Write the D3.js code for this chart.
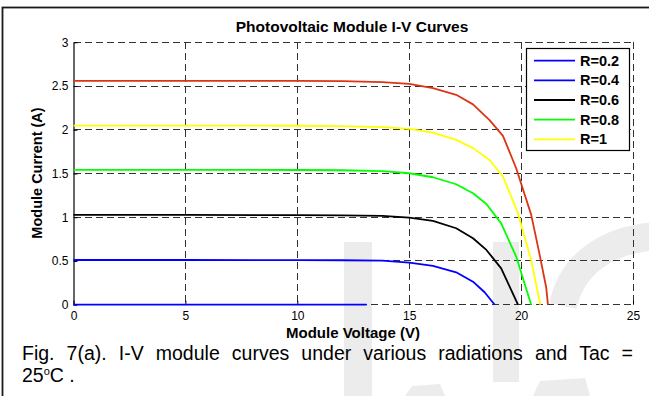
<!DOCTYPE html>
<html>
<head>
<meta charset="utf-8">
<script src="https://cdn.jsdelivr.net/npm/d3@7/dist/d3.min.js"></script>
<style>
  html, body { margin: 0; padding: 0; background: #fff; }
  svg { display: block; }
  text { font-family: "Liberation Sans", Arial, Helvetica, sans-serif; }
</style>
</head>
<body>
<svg id="chart" width="649" height="396"></svg>
<script>
// ---- data -------------------------------------------------------------
const xTicks = [0, 5, 10, 15, 20, 25];
const yTicks = [0, 0.5, 1, 1.5, 2, 2.5, 3];

// module voltage (V) / current (A) samples for each curve
const vR02 = [0, 13.1];
const iR02 = [0, 0];

const vR04 = [0, 5, 10, 12, 13.8, 15, 16.06, 17.1, 17.85, 18.37, 18.82];
const iR04 = [0.511, 0.511, 0.51, 0.508, 0.503, 0.48, 0.443, 0.37, 0.263, 0.142, 0];

const vR06 = [0, 5, 10, 12, 13.8, 15, 16.06, 17.1, 17.85, 18.45, 19.11, 19.86];
const iR06 = [1.026, 1.026, 1.024, 1.022, 1.015, 0.996, 0.958, 0.874, 0.76, 0.626, 0.416, 0];

const vR08 = [0, 5, 10, 12, 13.8, 15, 16.06, 17.1, 17.85, 18.45, 19.11, 19.78, 20.45];
const iR08 = [1.541, 1.541, 1.54, 1.537, 1.528, 1.503, 1.457, 1.377, 1.275, 1.152, 0.93, 0.55, 0];

const vR1 = [0, 5, 10, 12, 13.8, 15, 16.06, 17.1, 17.85, 18.59, 19.19, 19.86, 20.45, 20.86];
const iR1 = [2.048, 2.048, 2.046, 2.042, 2.03, 2.01, 1.968, 1.884, 1.79, 1.655, 1.465, 1.046, 0.51, 0];

const vFull = [0, 5, 10, 12, 13.8, 15, 16.06, 17.1, 17.85, 18.59, 19.19, 19.78, 20.45, 20.83, 21.12, 21.2];
const iFull = [2.56, 2.56, 2.558, 2.555, 2.545, 2.525, 2.476, 2.4, 2.29, 2.11, 1.93, 1.56, 1.03, 0.57, 0.2, 0];

const seriesNames = ["R=0.2", "R=0.4", "R=0.6", "R=0.8", "R=1", ""];
const seriesColors = ["#0000ff", "#0000ff", "#000000", "#00ff00", "#ffff00", "#dc3515"];
const seriesV = [vR02, vR04, vR06, vR08, vR1, vFull];
const seriesI = [iR02, iR04, iR06, iR08, iR1, iFull];
const legendCount = 5;

// ---- drawing ----------------------------------------------------------
const svg = d3.select("#chart");
svg.append("rect").attr("width", 649).attr("height", 396).attr("fill", "#fff");

// page watermark lettering
const wm = svg.append("g").attr("fill", "#ececec");
wm.append("rect").attr("x", 344).attr("y", 242).attr("width", 28).attr("height", 160);
wm.append("rect").attr("x", 493).attr("y", 242).attr("width", 26).attr("height", 140);
wm.append("path").attr("d", "M405,396 L412,386 L440,384 L445,396 Z");
wm.append("path").attr("d", "M533,396 L540,381 L585,378 L590,396 Z");
wm.append("path")
  .attr("d", "M563,306 C572,262 610,238 660,236")
  .attr("fill", "none").attr("stroke", "#ececec").attr("stroke-width", 28);

// outer figure frame
svg.append("rect")
  .attr("x", 2.5).attr("y", 7.5).attr("width", 700).attr("height", 450)
  .attr("fill", "none").attr("stroke", "#1a1a1a").attr("stroke-width", 1.8);

const x = d3.scaleLinear().domain([0, 25]).range([73.5, 633]);
const y = d3.scaleLinear().domain([0, 3]).range([304.7, 42.3]);

const plot = svg.append("g");

// dashed grid
const grid = plot.append("g")
  .attr("stroke", "#333").attr("stroke-width", 1)
  .attr("stroke-dasharray", "7,4").attr("shape-rendering", "crispEdges");
grid.selectAll("line.v").data(xTicks.filter(d => d > 0)).join("line")
  .attr("x1", d => x(d)).attr("x2", d => x(d))
  .attr("y1", y(3)).attr("y2", y(0));
grid.selectAll("line.h").data(yTicks).join("line")
  .attr("x1", x(0)).attr("x2", x(25))
  .attr("y1", d => y(d)).attr("y2", d => y(d));

// axes: inward ticks
const fmt = d => String(d);
const xAxis = d3.axisBottom(x).tickValues(xTicks).tickFormat(fmt)
  .tickSizeInner(-4).tickSizeOuter(0).tickPadding(7);
const yAxis = d3.axisLeft(y).tickValues(yTicks).tickFormat(fmt)
  .tickSizeInner(-4).tickSizeOuter(0).tickPadding(7);

const gx = plot.append("g").attr("transform", `translate(0,${y(0)})`).call(xAxis);
gx.select(".domain").remove();
gx.selectAll("line").attr("stroke", "#000").attr("stroke-width", 1);
gx.selectAll("text").attr("font-size", 12).attr("fill", "#000")
  .attr("font-family", "'Liberation Sans', Arial, sans-serif");

const gy = plot.append("g").attr("transform", `translate(${x(0)},0)`).call(yAxis);
gy.select(".domain").attr("stroke", "#000").attr("stroke-width", 1.2);
gy.selectAll("line").attr("stroke", "#000");
gy.selectAll("text").attr("font-size", 12).attr("fill", "#000").attr("dx", "2")
  .attr("font-family", "'Liberation Sans', Arial, sans-serif");

// curves
const line = d3.line().x(d => x(d[0])).y(d => y(d[1]));
const curves = plot.append("g").attr("fill", "none").attr("stroke-width", 1.8)
  .attr("stroke-linejoin", "round");
seriesV.forEach((vs, k) => {
  const pts = vs.map((v, j) => [v, seriesI[k][j]]);
  curves.append("path").attr("d", line(pts)).attr("stroke", seriesColors[k]);
});

// title and axis labels
svg.append("text").attr("x", 352).attr("y", 31.5).attr("text-anchor", "middle")
  .attr("font-size", 15.5).attr("font-weight", "bold").text("Photovoltaic Module I-V Curves");
svg.append("text").attr("x", 353).attr("y", 338).attr("text-anchor", "middle")
  .attr("font-size", 15).attr("font-weight", "bold").text("Module Voltage (V)");
svg.append("text").attr("transform", "translate(42,173) rotate(-90)").attr("text-anchor", "middle")
  .attr("font-size", 14.5).attr("font-weight", "bold").text("Module Current (A)");

// legend
const lg = svg.append("g");
lg.append("rect").attr("x", 526.5).attr("y", 48.5).attr("width", 103).attr("height", 102)
  .attr("fill", "#fff").attr("stroke", "#000").attr("stroke-width", 1.2);
const rowY = d3.scaleLinear().domain([0, legendCount - 1]).range([60.7, 139.3]);
for (let k = 0; k < legendCount; k++) {
  lg.append("line").attr("x1", 534).attr("x2", 575)
    .attr("y1", rowY(k)).attr("y2", rowY(k))
    .attr("stroke", seriesColors[k]).attr("stroke-width", 1.8);
  lg.append("text").attr("x", 580).attr("y", rowY(k) + 5)
    .attr("font-size", 14.5).attr("font-weight", "bold").text(seriesNames[k]);
}

// caption (justified first line)
const cap1 = svg.append("text").attr("x", 22).attr("y", 359.5).attr("font-size", 19.5)
  .text("Fig. 7(a). I-V module curves under various radiations and Tac =");
const words = cap1.text().split(" ").length - 1;
const natural = cap1.node().getComputedTextLength();
cap1.attr("word-spacing", Math.max(0, ((633 - 22) - natural) / words));

const cap2 = svg.append("text").attr("x", 22).attr("y", 382).attr("font-size", 19.5);
cap2.append("tspan").text("25");
cap2.append("tspan").attr("font-size", 11).attr("dy", -7).text("o");
cap2.append("tspan").attr("dy", 7).text("C .");
</script>
</body>
</html>
